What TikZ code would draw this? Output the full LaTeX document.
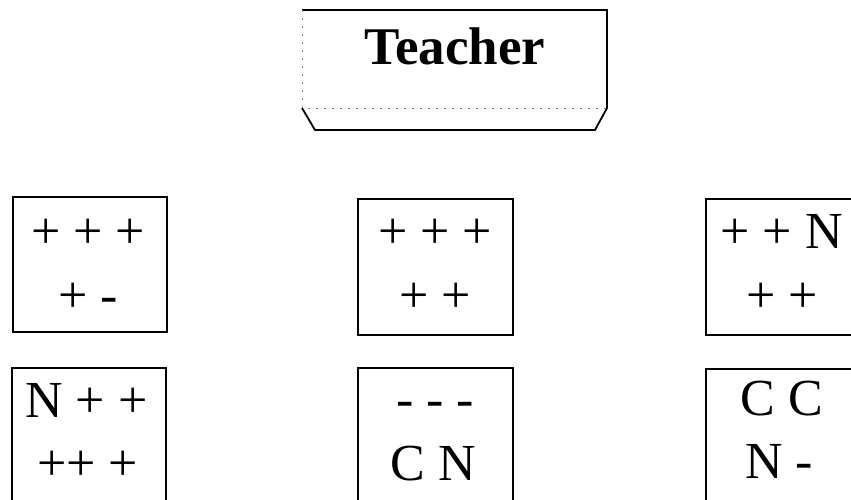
\documentclass[tikz,border=0pt]{standalone}
\usepackage{fontspec}
\setmainfont{Liberation Serif}
\begin{document}
\begin{tikzpicture}[x=1pt,y=-1pt,
  seat/.style={draw,line width=2.3pt,anchor=north west,inner sep=0pt},
  vote/.style={anchor=base,inner sep=0pt,font=\fontsize{52}{52}\selectfont},
  deskline/.style={line width=1.8pt},
  faint/.style={line width=0.8pt,gray,dash pattern=on 2pt off 6pt}]
\clip (0,0) rectangle (851,500);
% teacher desk
\coordinate (tl) at (302,10);
\coordinate (tr) at (607,10);
\coordinate (ml) at (302,108);
\coordinate (mr) at (607,108);
\coordinate (bl) at (315,130);
\coordinate (br) at (595,130);
\draw[deskline] (tl) -- (tr) -- (mr) -- (br) -- (bl) -- (ml);
\draw[faint] (tl) -- (ml) -- (mr);
\node[anchor=base,inner sep=0pt,font=\fontsize{53}{53}\selectfont\bfseries] (teacher) at (455,65) {Teacher};
% student groups
\node[seat,minimum width=154pt,minimum height=135pt] (g1) at (12,196) {};
\node[seat,minimum width=155pt,minimum height=136pt] (g2) at (357,198) {};
\node[seat,minimum width=170pt,minimum height=136pt] (g3) at (705,198) {};
\node[seat,minimum width=154pt,minimum height=150pt] (g4) at (11,367) {};
\node[seat,minimum width=155pt,minimum height=150pt] (g5) at (357,367) {};
\node[seat,minimum width=170pt,minimum height=150pt] (g6) at (705,368) {};
% texts
\node[vote] (g1a) at (88,248) {+ + +};
\node[vote] (g1b) at (88,312) {+ -};
\node[vote] (g2a) at (435,248) {+ + +};
\node[vote] (g2b) at (435,312) {+ +};
\node[vote] (g3a) at (781.5,248) {+ + N};
\node[vote] (g3b) at (782,312) {+ +};
\node[vote] (g4a) at (86.5,417) {N + +};
\node[vote] (g4b) at (87.5,480) {++ +};
\node[vote] (g5a) at (435,416) {- - -};
\node[vote] (g5b) at (433.5,480) {C N};
\node[vote] (g6a) at (781.5,415) {C C};
\node[vote] (g6b) at (779,478) {N -};
\end{tikzpicture}
\end{document}
